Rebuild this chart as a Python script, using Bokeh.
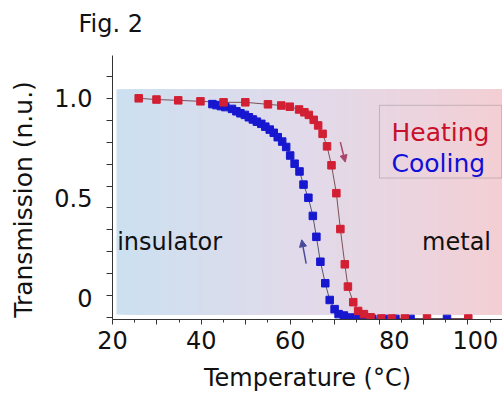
import numpy as np
from bokeh.plotting import figure
from bokeh.models import (Label, Arrow, NormalHead, FixedTicker, Range1d,
                          ColumnDataSource, BoxAnnotation, Title)
from bokeh.embed import file_html
from bokeh.resources import INLINE

# ---------------- data ----------------
heat_T = [25.9, 29.9, 34.8, 39.8, 45.0, 49.9, 55.0, 58.0, 59.9, 62.0, 63.2, 64.2,
          65.3, 66.3, 67.3, 68.3, 69.3, 70.4, 71.3, 72.3, 73.0, 74.2, 75.3, 76.6,
          78.1, 80.5, 82.9, 85.8, 90.8, 100.1]
heat_Tr = [1.0, 0.994, 0.99, 0.985, 0.98, 0.98, 0.97, 0.964, 0.958, 0.944, 0.93,
           0.917, 0.892, 0.864, 0.822, 0.759, 0.664, 0.524, 0.344, 0.167, 0.055,
           -0.023, -0.067, -0.083, -0.099, -0.105, -0.105, -0.105, -0.105, -0.105]

cool_T = [42.5, 43.4, 44.4, 45.4, 46.9, 47.9, 48.8, 49.8, 50.7, 51.6, 52.5, 53.5,
          54.4, 55.4, 56.3, 57.2, 58.2, 59.1, 60.0, 61.0, 62.1, 63.0, 64.1, 65.1,
          65.9, 66.8, 67.9, 68.9, 70.0, 70.9, 72.1, 73.6, 75.4, 77.2, 78.5, 81.1,
          83.7, 87.1, 95.3]
cool_Tr = [0.971, 0.966, 0.961, 0.956, 0.947, 0.935, 0.925, 0.917, 0.905, 0.894,
           0.883, 0.872, 0.858, 0.843, 0.827, 0.805, 0.783, 0.756, 0.713, 0.672,
           0.633, 0.567, 0.501, 0.41, 0.305, 0.18, 0.072, -0.012, -0.058, -0.083,
           -0.09, -0.1, -0.104, -0.107, -0.107, -0.107, -0.107, -0.107, -0.107]

NB = "\u00a0"
x_ticks = [20, 30, 40, 50, 60, 70, 80, 90, 100]
x_minor = [25, 35, 45, 55, 65, 75, 85, 95, 105]
x_labels = {20: "20", 30: "", 40: "40", 50: "", 60: "60", 70: "",
            80: NB * 4 + "80", 90: "", 100: NB * 2 + "100"}
y_ticks = [0, 0.5, 1.0]
y_labels = {0: "0", 0.5: "0.5", 1.0: "1.0"}
y_minor = [1.22, 1.11, 1.0, 0.89, 0.78, 0.67, 0.56, 0.45, 0.34, 0.23, 0.12, 0.01, -0.10]

FONT = "DejaVu Sans"
RED = "#d21f33"
BLUE = "#1717d0"

p = figure(width=502, height=394, output_backend="svg", toolbar_location=None,
           x_range=Range1d(20, 107.8), y_range=Range1d(-0.11, 1.215),
           min_border_left=112, min_border_right=0, min_border_top=55,
           min_border_bottom=74, title=None)
p.grid.visible = False
p.outline_line_color = None
p.background_fill_color = "white"
p.border_fill_color = "white"

# title (with a small blank spacer between it and the plot area)
p.add_layout(Title(text=NB, text_font_size="1px", align="left"), "above")
p.add_layout(Title(text="Fig. 2", align="left", offset=-34, text_font=FONT,
                   text_font_size="24px", text_font_style="normal",
                   text_color="#111111"), "above")

# gradient background (blue -> lavender -> pink); each strip runs to the right end
n = 90
x_end = 107.8
lefts = np.linspace(20.9, x_end, n + 1)[:-1]
stops = np.array([[204, 224, 240], [226, 218, 234], [243, 207, 212]], dtype=float)
t = np.linspace(0, 1, n)
cols = []
for ti in t:
    if ti < 0.5:
        c = stops[0] + (stops[1] - stops[0]) * (ti / 0.5)
    else:
        c = stops[1] + (stops[2] - stops[1]) * ((ti - 0.5) / 0.5)
    cols.append("#%02x%02x%02x" % tuple(int(round(v)) for v in c))
p.quad(left=lefts, right=[x_end] * n, bottom=-0.085, top=1.045,
       fill_color=cols, line_color=None)

# curves
hs = ColumnDataSource(dict(x=heat_T, y=heat_Tr))
cs = ColumnDataSource(dict(x=cool_T, y=cool_Tr))
p.line("x", "y", source=hs, line_color="#7a5058", line_width=1)
p.line("x", "y", source=cs, line_color="#555570", line_width=1)
p.scatter("x", "y", source=cs, marker="square", size=7.5, fill_color=BLUE, line_color=BLUE)
p.scatter("x", "y", source=hs, marker="square", size=7.5, fill_color=RED, line_color=RED)

# arrows
p.add_layout(Arrow(end=NormalHead(size=7, fill_color="#a8456a", line_color="#a8456a"),
                   x_start=71.3, y_start=0.78, x_end=72.4, y_end=0.68,
                   line_color="#a8456a", line_width=1.5))
p.add_layout(Arrow(end=NormalHead(size=7, fill_color="#4a4a9a", line_color="#4a4a9a"),
                   x_start=63.6, y_start=0.17, x_end=62.6, y_end=0.29,
                   line_color="#4a4a9a", line_width=1.5))

# axes
xa = p.xaxis[0]
xa.ticker = FixedTicker(ticks=x_ticks, minor_ticks=x_minor)
xa.major_label_overrides = x_labels
xa.major_tick_out = 5
xa.major_tick_in = 0
xa.minor_tick_out = 3
xa.minor_tick_in = 0
xa.major_label_standoff = 2
xa.major_tick_line_color = "#333333"
xa.axis_label = "Temperature (°C)"
xa.axis_label_standoff = 6
xa.axis_label_text_font_size = "24px"

ya = p.yaxis[0]
ya.ticker = FixedTicker(ticks=y_ticks, minor_ticks=y_minor)
ya.major_label_overrides = y_labels
ya.major_tick_line_color = None
ya.major_tick_out = 6
ya.minor_tick_out = 6
ya.minor_tick_in = 0
ya.major_label_standoff = 14
ya.axis_label = "Transmission (n.u.)" + NB * 3
ya.axis_label_standoff = 13
ya.axis_label_text_font_size = "25px"

for ax in (xa, ya):
    ax.axis_line_color = "#333333"
    ax.minor_tick_line_color = "#333333"
    ax.major_label_text_font = FONT
    ax.major_label_text_font_size = "24px"
    ax.major_label_text_color = "#111111"
    ax.axis_label_text_font = FONT
    ax.axis_label_text_font_style = "normal"
    ax.axis_label_text_color = "#111111"

# texts inside the plot area
def lab(x, y, text, color="#111111", size="24px"):
    p.add_layout(Label(x=x, y=y, text=text, text_font=FONT, text_font_size=size,
                       text_color=color, text_baseline="alphabetic"))

lab(21.05, 0.28, "insulator")
lab(89.7, 0.28, "metal")
lab(82.8, 0.83, "Heating", color="#c8102a", size="25px")
lab(82.8, 0.673, "Cooling", color="#1010d8", size="25px")
p.add_layout(BoxAnnotation(left=80.1, right=107.6, top=0.965, bottom=0.6,
                           fill_alpha=0, line_color="#666666", line_width=1))

open("out.html", "w").write(file_html(p, INLINE))
